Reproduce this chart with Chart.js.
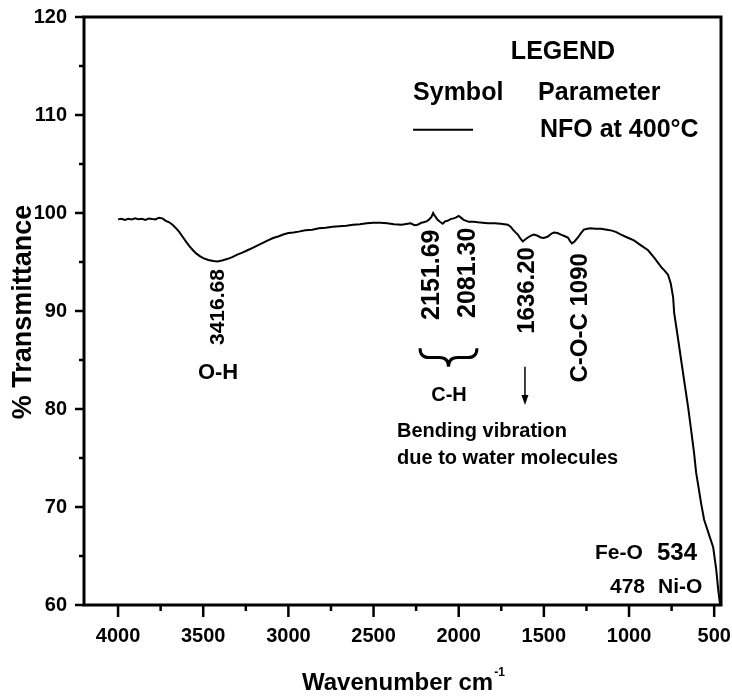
<!DOCTYPE html>
<html>
<head>
<meta charset="utf-8">
<script src="https://cdn.jsdelivr.net/npm/chart.js@4"></script>
<style>
  html, body { margin: 0; padding: 0; background: #fff; }
  #wrap { width: 732px; height: 697px; position: relative; }
</style>
</head>
<body>
<div id="wrap"><canvas id="ftir"></canvas></div>
<script>
// ===== FTIR spectrum of NFO at 400°C =====

const FONT = 'Liberation Sans, Arial, sans-serif';

// wavenumber (cm-1) and % transmittance
const wavenumber = [
    4000, 3980, 3960, 3940, 3920, 3900, 3880, 3860, 3840, 3820, 3800, 3780, 3760, 3740, 3720, 3700,
    3680, 3660, 3640, 3620, 3600, 3580, 3560, 3540, 3520, 3500, 3470, 3440, 3416, 3390, 3360, 3330,
    3300, 3270, 3240, 3210, 3180, 3150, 3120, 3090, 3060, 3030, 3000, 2970, 2940, 2900, 2860, 2820,
    2780, 2740, 2700, 2660, 2620, 2580, 2540, 2500, 2460, 2420, 2380, 2335, 2300, 2282, 2260, 2241,
    2220, 2206, 2190, 2176, 2160, 2150, 2140, 2124, 2110, 2094, 2080, 2065, 2045, 2029, 2015, 2000,
    1985, 1971, 1955, 1941, 1910, 1888, 1860, 1829, 1790, 1753, 1712, 1695, 1682, 1665, 1653, 1638,
    1624, 1610, 1594, 1575, 1559, 1540, 1518, 1500, 1476, 1455, 1441, 1420, 1400, 1380, 1359, 1345,
    1335, 1320, 1300, 1282, 1265, 1245, 1224, 1200, 1165, 1130, 1100, 1075, 1047, 1010, 971, 930,
    888, 850, 812, 790, 771, 755, 741, 735, 715, 694, 673, 653, 635, 618, 606, 588,
    576, 559, 529, 506, 488, 476, 465
];
const transmittance = [
    99.35, 99.42, 99.30, 99.40, 99.33, 99.45, 99.36, 99.42, 99.30, 99.44, 99.38, 99.35, 99.52, 99.45, 99.20, 99.05,
    98.80, 98.45, 98.05, 97.55, 97.05, 96.60, 96.20, 95.85, 95.60, 95.40, 95.20, 95.10, 95.05, 95.15, 95.30, 95.50,
    95.75, 95.95, 96.20, 96.45, 96.70, 96.95, 97.20, 97.45, 97.60, 97.80, 97.95, 98.00, 98.10, 98.25, 98.30, 98.45,
    98.50, 98.60, 98.65, 98.70, 98.80, 98.85, 98.95, 99.00, 99.00, 98.95, 98.85, 98.80, 98.90, 98.95, 98.75, 98.80,
    99.00, 99.05, 99.15, 99.30, 99.60, 100.0, 99.70, 99.30, 99.10, 98.90, 99.15, 99.20, 99.40, 99.45, 99.55, 99.70,
    99.50, 99.30, 99.20, 99.10, 99.10, 99.05, 99.00, 98.95, 98.95, 98.90, 98.80, 98.60, 98.30, 98.00, 97.80, 97.40,
    97.10, 97.30, 97.50, 97.70, 97.80, 97.70, 97.50, 97.45, 97.60, 97.90, 98.00, 97.95, 97.80, 97.65, 97.50, 97.10,
    96.90, 97.10, 97.50, 97.95, 98.30, 98.40, 98.45, 98.40, 98.40, 98.30, 98.20, 98.05, 97.80, 97.50, 97.20, 96.70,
    96.20, 95.40, 94.50, 94.10, 93.70, 92.80, 91.40, 89.80, 87.50, 85.00, 82.50, 80.20, 77.80, 75.50, 73.50, 71.60,
    70.30, 68.70, 67.10, 65.90, 63.60, 61.50, 60.00
];

const xTicks = [4000, 3500, 3000, 2500, 2000, 1500, 1000, 500];
const xMinorTicks = [3750, 3250, 2750, 2250, 1750, 1250, 750];
const yTicks = [60, 70, 80, 90, 100, 110, 120];
const yMinorTicks = [65, 75, 85, 95, 105, 115];

// peak labels, written vertically (data coords)
const peakLabels = [
    { text: '3416.68', wn: 3413, t: 90.4, size: 21 },
    { text: '2151.69', wn: 2157, t: 93.7, size: 25 },
    { text: '2081.30', wn: 1946, t: 93.9, size: 25 },
    { text: '1636.20', wn: 1599, t: 92.1, size: 24 },
    { text: 'C-O-C 1090', wn: 1288, t: 89.3, size: 24 },
];

// horizontal notes (data coords)
const notes = [
    { text: 'O-H', wn: 3413, t: 83.7, size: 22, align: 'center' },
    { text: 'C-H', wn: 2057, t: 81.4, size: 20, align: 'center' },
    { text: 'Bending vibration', wn: 2362, t: 77.7, size: 20, align: 'left' },
    { text: 'due to water molecules', wn: 2362, t: 75.0, size: 20, align: 'left' },
    { text: 'Fe-O', wn: 1200, t: 65.3, size: 21, align: 'left' },
    { text: '534', wn: 836, t: 65.3, size: 24, align: 'left' },
    { text: '478', wn: 1112, t: 61.8, size: 21, align: 'left' },
    { text: 'Ni-O', wn: 830, t: 61.8, size: 21, align: 'left' },
    { text: 'LEGEND', wn: 1388, t: 116.4, size: 25, align: 'center' },
    { text: 'Symbol', wn: 2268, t: 112.2, size: 25, align: 'left' },
    { text: 'Parameter', wn: 1534, t: 112.2, size: 25, align: 'left' },
    { text: 'NFO at 400\u00B0C', wn: 1523, t: 108.5, size: 25, align: 'left' },
];

const legendLine = { from: 2268, to: 1916, t: 108.5 };
const brace = { from: 2227, to: 1893, top: 86.2, tip: 84.3 };
const arrow = { wn: 1611, from: 84.3, to: 80.4 };

/** frame, ticks, titles and annotations */
const decorPlugin = {
    id: 'decor',
    afterDraw(chart) {
        const { ctx, chartArea: a, scales: { x, y } } = chart;
        const px = v => x.getPixelForValue(v);
        const py = v => y.getPixelForValue(v);
        ctx.save();
        ctx.strokeStyle = '#000';
        ctx.fillStyle = '#000';

        // ticks
        ctx.lineWidth = 2.5;
        ctx.beginPath();
        xTicks.forEach(v => { ctx.moveTo(px(v), a.bottom); ctx.lineTo(px(v), a.bottom + 12); });
        xMinorTicks.forEach(v => { ctx.moveTo(px(v), a.bottom); ctx.lineTo(px(v), a.bottom + 6); });
        yTicks.forEach(v => { ctx.moveTo(a.left, py(v)); ctx.lineTo(a.left - 9, py(v)); });
        yMinorTicks.forEach(v => { ctx.moveTo(a.left, py(v)); ctx.lineTo(a.left - 5, py(v)); });
        ctx.stroke();

        // frame
        ctx.lineWidth = 3;
        ctx.strokeRect(a.left, a.top, a.right - a.left, a.bottom - a.top);

        // axis titles
        ctx.textBaseline = 'middle';
        ctx.textAlign = 'center';
        ctx.save();
        ctx.translate(24, 312);
        ctx.rotate(-Math.PI / 2);
        ctx.font = `bold 27px ${FONT}`;
        ctx.fillText('% Transmittance', 0, 0);
        ctx.restore();

        ctx.font = `bold 24px ${FONT}`;
        ctx.textAlign = 'left';
        ctx.textBaseline = 'alphabetic';
        const xt = 'Wavenumber cm';
        ctx.fillText(xt, 302, 690);
        const w = ctx.measureText(xt).width;
        ctx.font = `bold 12px ${FONT}`;
        ctx.fillText('-1', 302 + w + 1, 676);

        // vertical peak labels
        ctx.textAlign = 'center';
        ctx.textBaseline = 'middle';
        peakLabels.forEach(p => {
            ctx.save();
            ctx.translate(px(p.wn), py(p.t));
            ctx.rotate(-Math.PI / 2);
            ctx.font = `bold ${p.size}px ${FONT}`;
            ctx.fillText(p.text, 0, 0);
            ctx.restore();
        });

        // notes
        notes.forEach(n => {
            ctx.font = `bold ${n.size}px ${FONT}`;
            ctx.textAlign = n.align;
            ctx.fillText(n.text, px(n.wn), py(n.t));
        });

        // legend symbol
        ctx.lineWidth = 2;
        ctx.beginPath();
        ctx.moveTo(px(legendLine.from), py(legendLine.t));
        ctx.lineTo(px(legendLine.to), py(legendLine.t));
        ctx.stroke();

        // curly brace under the C-H labels
        const bx1 = px(brace.from), bx2 = px(brace.to), bc = (bx1 + bx2) / 2;
        const bt = py(brace.top), bb = py(brace.tip), bm = (bt + bb) / 2;
        ctx.lineWidth = 3;
        ctx.beginPath();
        ctx.moveTo(bx1, bt);
        ctx.quadraticCurveTo(bx1, bm, bx1 + 9, bm);
        ctx.lineTo(bc - 9, bm);
        ctx.quadraticCurveTo(bc, bm, bc, bb);
        ctx.quadraticCurveTo(bc, bm, bc + 9, bm);
        ctx.lineTo(bx2 - 9, bm);
        ctx.quadraticCurveTo(bx2, bm, bx2, bt);
        ctx.stroke();

        // arrow
        const ax = px(arrow.wn), ay1 = py(arrow.from), ay2 = py(arrow.to);
        ctx.lineWidth = 1.5;
        ctx.beginPath();
        ctx.moveTo(ax, ay1);
        ctx.lineTo(ax, ay2 - 8);
        ctx.stroke();
        ctx.beginPath();
        ctx.moveTo(ax - 3.5, ay2 - 10);
        ctx.lineTo(ax + 3.5, ay2 - 10);
        ctx.lineTo(ax, ay2);
        ctx.closePath();
        ctx.fill();

        ctx.restore();
    },
};

const points = wavenumber.map((v, i) => ({ x: v, y: transmittance[i] }));

new Chart(document.getElementById('ftir'), {
    type: 'line',
    data: {
        datasets: [{
            label: 'NFO at 400\u00B0C',
            data: points,
            borderColor: '#000',
            borderWidth: 2,
            pointRadius: 0,
            tension: 0,
            fill: false,
        }],
    },
    options: {
        responsive: true,
        maintainAspectRatio: false,
        animation: false,
        layout: { padding: { left: 0, right: 11, top: 17, bottom: 0 } },
        plugins: {
            legend: { display: false },
            tooltip: { enabled: false },
        },
        scales: {
            x: {
                type: 'linear',
                reverse: true,
                min: 460,
                max: 4200,
                afterFit: s => { s.height = 92; s.paddingLeft = 0; s.paddingRight = 0; },
                afterBuildTicks: s => { s.ticks = xTicks.map(v => ({ value: v })); },
                grid: { display: true, drawOnChartArea: false, drawTicks: false },
                border: { display: false },
                ticks: {
                    color: '#000',
                    padding: 19,
                    maxRotation: 0,
                    callback: v => String(v),
                    font: { family: FONT, size: 20, weight: 'bold' },
                },
            },
            y: {
                min: 60,
                max: 120,
                afterFit: s => { s.width = 84; s.paddingTop = 0; s.paddingBottom = 0; },
                afterBuildTicks: s => { s.ticks = yTicks.map(v => ({ value: v })); },
                grid: { display: true, drawOnChartArea: false, drawTicks: false },
                border: { display: false },
                ticks: {
                    color: '#000',
                    padding: 17,
                    callback: v => String(v),
                    font: { family: FONT, size: 20, weight: 'bold' },
                },
            },
        },
    },
    plugins: [decorPlugin],
});
</script>
</body>
</html>
